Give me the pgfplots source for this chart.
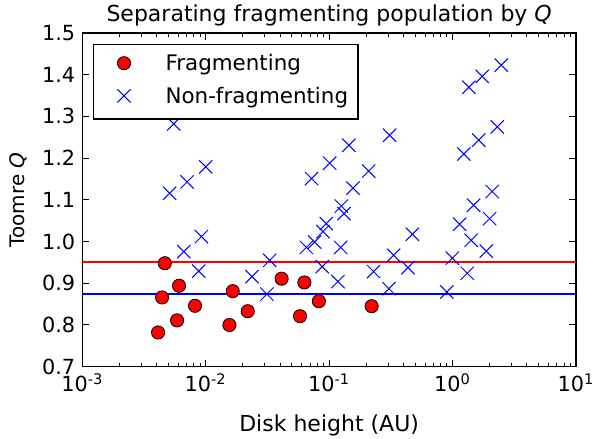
\documentclass[border=0pt]{standalone}
\usepackage{fontspec}
\setmainfont{DejaVu Sans}
\usepackage{pgfplots}
\pgfplotsset{compat=1.18}
\pgfplotsset{mylegimg/.style={legend image code/.code={\path (-12pt,-5pt) (18.5pt,5pt); \draw[##1] plot coordinates {(0pt,1.15pt)};}}}
\begin{document}
\fontsize{10pt}{12pt}\selectfont
\begin{tikzpicture}
\begin{axis}[name=ax,
  scale only axis, width=246.85pt, height=166.85pt,
  xmode=log, xmin=1e-3, xmax=1e1, ymin=0.7, ymax=1.5,
  xtick={1e-3,1e-2,1e-1,1,10},
  xticklabels={10\textsuperscript{-3},10\textsuperscript{-2},10\textsuperscript{-1},10\textsuperscript{0},10\textsuperscript{1}},
  minor xtick={2e-3,3e-3,4e-3,5e-3,6e-3,7e-3,8e-3,9e-3,2e-2,3e-2,4e-2,5e-2,6e-2,7e-2,8e-2,9e-2,0.2,0.3,0.4,0.5,0.6,0.7,0.8,0.9,2,3,4,5,6,7,8,9},
  ytick={0.7,0.8,0.9,1.0,1.1,1.2,1.3,1.4,1.5},
  yticklabels={0.7,0.8,0.9,1.0,1.1,1.2,1.3,1.4,1.5},
  tick align=inside, major tick length=3.5pt, minor tick length=1.75pt,
  every tick/.style={black, line width=0.5pt},
  axis line style={line width=0.6pt},
  xticklabel style={font=\fontsize{10.4pt}{12pt}\selectfont},
  yticklabel style={font=\fontsize{10.4pt}{12pt}\selectfont},
  title={Separating fragmenting population by \textit{Q}},
  title style={at={(axis description cs:0.5,1)}, anchor=base, yshift=-0.35pt, font=\fontsize{11pt}{13pt}\selectfont},
  xlabel={Disk height (AU)},
  xlabel style={at={(axis description cs:0.5,0)}, anchor=base, yshift=-32.2pt, font=\fontsize{11pt}{13pt}\selectfont},
  ylabel={Toomre \textit{Q}},
  ylabel style={at={([xshift=-28.7pt]axis description cs:0,0.5)}, anchor=base, font=\fontsize{10pt}{12pt}\selectfont},
  legend cell align=left,
  legend style={at={(0.0213,0.967)}, anchor=north west, draw=black, line width=0.6pt,
    fill=white, inner xsep=3pt, inner ysep=3.3pt, row sep=2pt,
    nodes={inner sep=2pt, text height=7.7pt, text depth=2.6pt},
    font=\fontsize{10.7pt}{12pt}\selectfont},
]
\addplot[red, line width=1pt, forget plot] coordinates {(1e-3,0.95) (1e1,0.95)};
\addplot[blue, line width=1pt, forget plot] coordinates {(1e-3,0.875) (1e1,0.875)};
\addplot[only marks, mark=*, mark size=3.3pt, mark options={fill=red, draw=black, line width=0.4pt}, mylegimg]
  coordinates {
  (0.00466,0.948) (0.00443,0.866) (0.00608,0.894) (0.00411,0.782) (0.00586,0.811)
  (0.00819,0.846) (0.01656,0.881) (0.01556,0.800) (0.0219,0.833) (0.0412,0.911)
  (0.0630,0.902) (0.0581,0.821) (0.0826,0.857) (0.221,0.845)
  };
\addlegendentry{Fragmenting}
\addplot[only marks, mark=x, mark size=4.7pt, color=blue, mark options={line width=0.5pt}, mylegimg]
  coordinates {
  (0.00551,1.282) (0.00766,1.309) (0.0051,1.116) (0.00706,1.143) (0.01,1.179)
  (0.00664,0.976) (0.00923,1.012) (0.00878,0.929) (0.0237,0.916) (0.033,0.955)
  (0.0313,0.874) (0.0654,0.986) (0.0763,0.999) (0.088,0.94) (0.0948,1.043)
  (0.0891,1.024) (0.0721,1.151) (0.101,1.188) (0.1445,1.231) (0.156,1.128)
  (0.1256,1.085) (0.132,1.067) (0.124,0.986) (0.1178,0.904) (0.209,1.169)
  (0.229,0.928) (0.309,1.255) (0.472,1.0175) (0.333,0.967) (0.435,0.9375)
  (0.305,0.887) (0.899,0.879) (0.995,0.96) (1.315,0.924) (1.14,1.0415)
  (1.416,1.003) (1.48,1.087) (1.996,1.055) (1.875,0.977) (2.096,1.12)
  (1.355,1.37) (1.74,1.396) (2.48,1.423) (1.234,1.21) (1.63,1.243) (2.30,1.275)
  };
\addlegendentry{Non-fragmenting}
\end{axis}
\pgfresetboundingbox
\path ([xshift=-41.15pt,yshift=-36.15pt]ax.south west) rectangle ([xshift=8.5pt,yshift=16.5pt]ax.north east);
\end{tikzpicture}
\end{document}
